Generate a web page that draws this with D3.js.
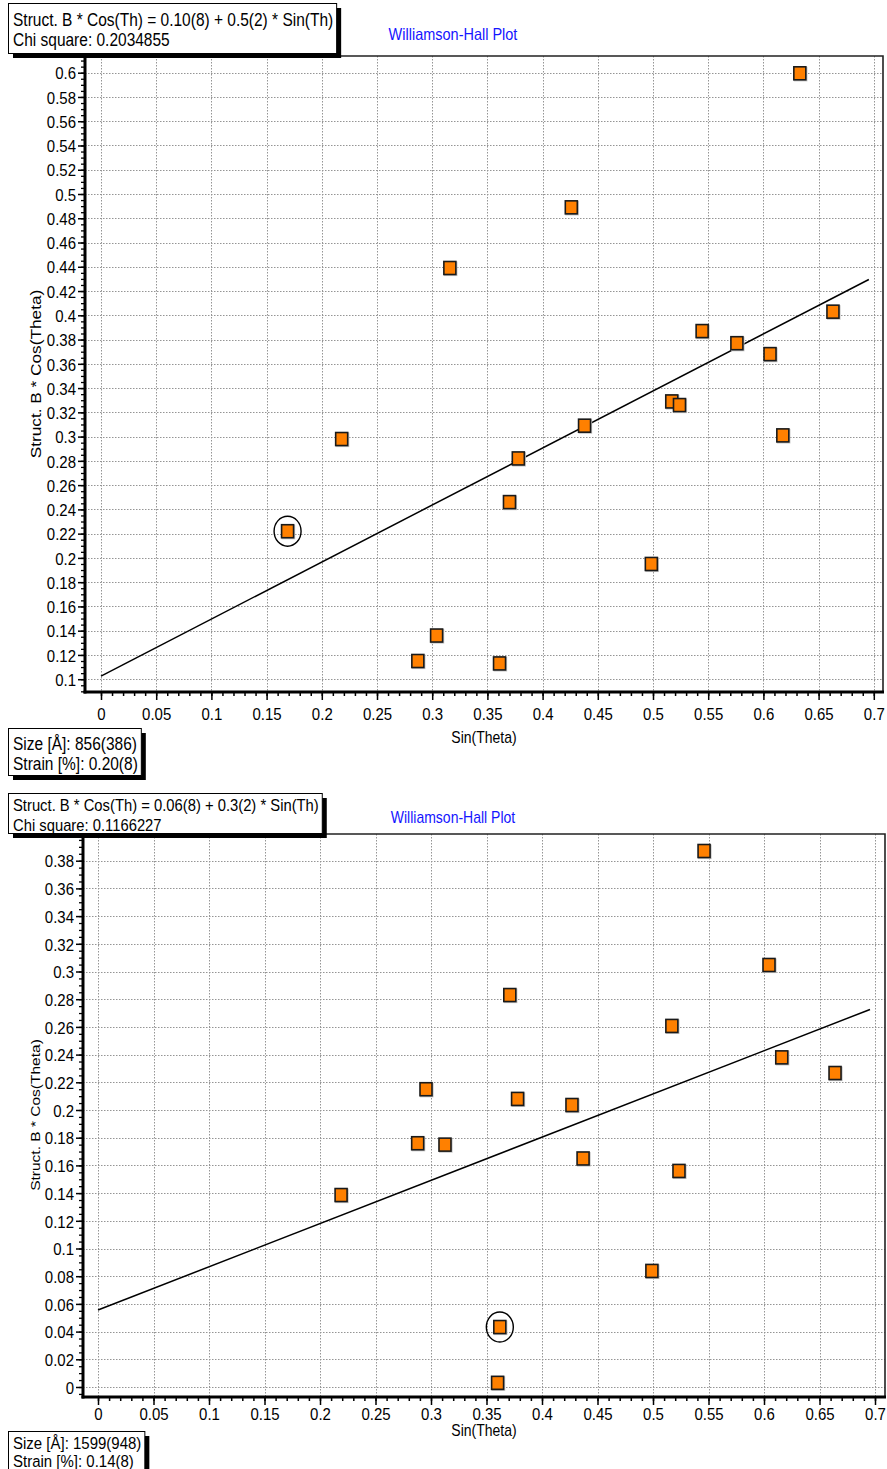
<!DOCTYPE html>
<html><head><meta charset="utf-8">
<script src="https://cdn.jsdelivr.net/npm/d3@7"></script>
<style>
body{margin:0;background:#fff;overflow:hidden}
svg{display:block;font-family:Arial,"Liberation Sans",sans-serif}
</style></head><body>
<svg id="c" width="887" height="1469"></svg>
<script>
// ---------- Panel 1 data ----------
const sinTheta1 = [0.633,0.426,0.316,0.663,0.5445,0.576,0.606,0.517,0.524,0.438,0.6176,0.378,0.370,0.169,0.304,0.287,0.361,0.218,0.4985];
const bcos1     = [0.5995,0.489,0.439,0.403,0.387,0.377,0.368,0.329,0.326,0.309,0.301,0.282,0.246,0.222,0.136,0.115,0.113,0.298,0.195];
const circled1  = [13];
const fitCoef1  = [0.1026, 0.470];     // intercept, slope
const fitRange1 = [0, 0.6955];
const yTicks1   = [0.1,0.12,0.14,0.16,0.18,0.2,0.22,0.24,0.26,0.28,0.3,0.32,0.34,0.36,0.38,0.4,0.42,0.44,0.46,0.48,0.5,0.52,0.54,0.56,0.58,0.6];
const yTickLabels1 = ["0.1","0.12","0.14","0.16","0.18","0.2","0.22","0.24","0.26","0.28","0.3","0.32","0.34","0.36","0.38","0.4","0.42","0.44","0.46","0.48","0.5","0.52","0.54","0.56","0.58","0.6"];
const infoTop1  = ["Struct. B * Cos(Th) = 0.10(8) + 0.5(2) * Sin(Th)", "Chi square: 0.2034855"];
const infoBot1  = ["Size [Å]: 856(386)", "Strain [%]: 0.20(8)"];

// ---------- Panel 2 data ----------
const sinTheta2 = [0.546,0.6045,0.371,0.517,0.616,0.664,0.2955,0.378,0.427,0.288,0.3126,0.437,0.5234,0.219,0.499,0.362,0.360];
const bcos2     = [0.387,0.3047,0.283,0.2607,0.238,0.2267,0.215,0.208,0.2036,0.176,0.175,0.165,0.156,0.1386,0.0838,0.0433,0.003];
const circled2  = [15];
const fitCoef2  = [0.0556, 0.312];
const fitRange2 = [0, 0.6955];
const yTicks2   = [0,0.02,0.04,0.06,0.08,0.1,0.12,0.14,0.16,0.18,0.2,0.22,0.24,0.26,0.28,0.3,0.32,0.34,0.36,0.38];
const yTickLabels2 = ["0","0.02","0.04","0.06","0.08","0.1","0.12","0.14","0.16","0.18","0.2","0.22","0.24","0.26","0.28","0.3","0.32","0.34","0.36","0.38"];
const infoTop2  = ["Struct. B * Cos(Th) = 0.06(8) + 0.3(2) * Sin(Th)", "Chi square: 0.1166227"];
const infoBot2  = ["Size [Å]: 1599(948)", "Strain [%]: 0.14(8)"];

// ---------- shared ----------
const xTicks = [0,0.05,0.1,0.15,0.2,0.25,0.3,0.35,0.4,0.45,0.5,0.55,0.6,0.65,0.7];
const xTickLabels = ["0","0.05","0.1","0.15","0.2","0.25","0.3","0.35","0.4","0.45","0.5","0.55","0.6","0.65","0.7"];
const chartTitle = "Williamson-Hall Plot";
const xTitle = "Sin(Theta)";
const yTitle = "Struct. B * Cos(Theta)";

const SY = 1.15; // vertical stretch of the text glyphs in the picture
const svg = d3.select("#c");

const panels = [
  {xs: sinTheta1, ys: bcos1, circ: circled1, fit: fitCoef1, fitR: fitRange1, yT: yTicks1, yL: yTickLabels1,
   infoT: infoTop1, infoB: infoBot1,
   left: 85, right: 883, top: 56, bottom: 692,
   x0px: 101, xUnit: 1104, y0val: 0.6, y0px: 72.7, yUnit: 1213,
   titleY: 40, titleX: 453, titleFs: 14.5,
   infoTBox: [8, 3, 53], infoTBase: [26, 46], infoTFs: 15.5,
   infoBBox: [8, 728, 775], infoBBase: [750, 770], infoBFs: 15.5,
   xLabY: 720, xTitleY: 743, yTitleX: 41, yTitleY: 374, yTitleFs: 15},
  {xs: sinTheta2, ys: bcos2, circ: circled2, fit: fitCoef2, fitR: fitRange2, yT: yTicks2, yL: yTickLabels2,
   infoT: infoTop2, infoB: infoBot2,
   left: 83, right: 885, top: 834, bottom: 1397,
   x0px: 98, xUnit: 1110, y0val: 0, y0px: 1387, yUnit: 1385,
   titleY: 823, titleX: 453, titleFs: 14,
   infoTBox: [8, 793, 833], infoTBase: [811, 831], infoTFs: 14.8,
   infoBBox: [8, 1431, 1476], infoBBase: [1449, 1467], infoBFs: 15,
   xLabY: 1420, xTitleY: 1436, yTitleX: 40, yTitleY: 1115, yTitleFs: 13.5}
];

function stretchText(sel, x, y, extra) {
  sel.attr("x", 0).attr("y", 0)
     .attr("transform", `translate(${x},${y}) scale(1,${SY})` + (extra || ""));
}

panels.forEach(p => {
  const g = svg.append("g");
  const xDom = [(p.left - p.x0px) / p.xUnit, (p.right - p.x0px) / p.xUnit];
  const yDom = [p.y0val - (p.bottom - p.y0px) / p.yUnit, p.y0val + (p.y0px - p.top) / p.yUnit];
  const x = d3.scaleLinear().domain(xDom).range([p.left, p.right]);
  const y = d3.scaleLinear().domain(yDom).range([p.bottom, p.top]);

  // grid
  const grid = g.append("g").attr("stroke", "#959595").attr("stroke-width", 1).attr("stroke-dasharray", "1.5,1.5");
  grid.selectAll(".gx").data(xTicks).join("line")
    .attr("x1", d => Math.round(x(d)) + 0.5).attr("x2", d => Math.round(x(d)) + 0.5)
    .attr("y1", p.top).attr("y2", p.bottom);
  grid.selectAll(".gy").data(p.yT).join("line")
    .attr("y1", d => Math.round(y(d)) + 0.5).attr("y2", d => Math.round(y(d)) + 0.5)
    .attr("x1", p.left).attr("x2", p.right);

  // frame (top and right)
  g.append("path").attr("d", `M${p.left},${p.top}H${p.right}V${p.bottom}`)
    .attr("fill", "none").attr("stroke", "#222").attr("stroke-width", 1.6);

  // fit line
  g.append("line")
    .attr("x1", x(p.fitR[0])).attr("y1", y(p.fit[0] + p.fit[1] * p.fitR[0]))
    .attr("x2", x(p.fitR[1])).attr("y2", y(p.fit[0] + p.fit[1] * p.fitR[1]))
    .attr("stroke", "#000").attr("stroke-width", 1.5);

  // points
  const pts = p.xs.map((v, i) => ({x: v, y: p.ys[i], i}));
  const sw = 12, sh = 13;
  g.selectAll(".sh").data(pts).join("rect")
    .attr("x", d => x(d.x) - sw / 2 + 0.8).attr("y", d => y(d.y) - sh / 2 + 0.8)
    .attr("width", sw).attr("height", sh).attr("fill", "none").attr("stroke", "#c4c4c4").attr("stroke-width", 1.6);
  g.selectAll(".pt").data(pts).join("rect")
    .attr("x", d => x(d.x) - sw / 2).attr("y", d => y(d.y) - sh / 2)
    .attr("width", sw).attr("height", sh)
    .attr("fill", "#ff8000").attr("stroke", "#1a1a1a").attr("stroke-width", 1.6);

  // circled point
  g.selectAll(".ci").data(p.circ.map(i => pts[i])).join("ellipse")
    .attr("cx", d => x(d.x)).attr("cy", d => y(d.y)).attr("rx", 13.5).attr("ry", 15)
    .attr("fill", "none").attr("stroke", "#000").attr("stroke-width", 1.4);

  // axes
  const xMinor = d3.range(0, 0.7001, 0.01).filter(v => v >= xDom[0] && v <= xDom[1]);
  const yMinor = d3.range(Math.ceil(yDom[0] / 0.005) * 0.005, yDom[1], 0.005);
  const axB = g.append("g").attr("transform", `translate(0,${p.bottom})`)
    .call(d3.axisBottom(x).tickValues(xMinor).tickSize(4).tickFormat(""));
  axB.select(".domain").remove();
  axB.selectAll("line").attr("stroke", "#000").attr("stroke-width", 1.5);
  const axBM = g.append("g").attr("transform", `translate(0,${p.bottom})`)
    .call(d3.axisBottom(x).tickValues(xTicks).tickSize(8).tickFormat((d, i) => xTickLabels[i]));
  axBM.select(".domain").remove();
  axBM.selectAll("line").attr("stroke", "#000").attr("stroke-width", 1.5);
  axBM.selectAll("text").attr("dy", null)
    .attr("font-size", 15).attr("font-family", "Arial, 'Liberation Sans', sans-serif").attr("fill", "#000")
    .each(function() { stretchText(d3.select(this), 0, p.xLabY - p.bottom); });

  const axL = g.append("g").attr("transform", `translate(${p.left},0)`)
    .call(d3.axisLeft(y).tickValues(yMinor).tickSize(4).tickFormat(""));
  axL.select(".domain").remove();
  axL.selectAll("line").attr("stroke", "#000").attr("stroke-width", 1.3);
  const axLM = g.append("g").attr("transform", `translate(${p.left},0)`)
    .call(d3.axisLeft(y).tickValues(p.yT).tickSize(7).tickFormat((d, i) => p.yL[i]));
  axLM.select(".domain").remove();
  axLM.selectAll("line").attr("stroke", "#000").attr("stroke-width", 1.5);
  axLM.selectAll("text").attr("dy", "0.36em")
    .attr("font-size", 15).attr("font-family", "Arial, 'Liberation Sans', sans-serif").attr("fill", "#000")
    .each(function() { stretchText(d3.select(this), -9, 0); });

  // thick axis lines
  g.append("line").attr("x1", p.left).attr("x2", p.left).attr("y1", p.top).attr("y2", p.bottom + 1.5)
    .attr("stroke", "#000").attr("stroke-width", 3);
  g.append("line").attr("x1", p.left - 1.5).attr("x2", p.right + 1).attr("y1", p.bottom).attr("y2", p.bottom)
    .attr("stroke", "#000").attr("stroke-width", 3);

  // titles
  stretchText(g.append("text").attr("text-anchor", "middle")
    .attr("font-size", p.titleFs).attr("fill", "#1515ff").text(chartTitle), p.titleX, p.titleY);
  stretchText(g.append("text").attr("text-anchor", "middle")
    .attr("font-size", 14).attr("fill", "#000").text(xTitle), (p.left + p.right) / 2, p.xTitleY);
  stretchText(g.append("text").attr("text-anchor", "middle")
    .attr("font-size", p.yTitleFs).attr("fill", "#000").text(yTitle), p.yTitleX, p.yTitleY, " rotate(-90)");

  // info boxes
  function infoBox(lines, box, bases, fs) {
    const bg = g.append("g");
    const tg = g.append("g");
    const texts = tg.selectAll("text").data(lines).join("text")
      .attr("font-size", fs).attr("fill", "#000").text(d => d)
      .each(function(d, i) { stretchText(d3.select(this), box[0] + 5, bases[i]); });
    let w = 0;
    texts.each(function() { w = Math.max(w, this.getComputedTextLength()); });
    const bw = w + 8, bh = box[2] - box[1];
    bg.append("rect").attr("x", box[0] + 5).attr("y", box[1] + 5).attr("width", bw).attr("height", bh).attr("fill", "#000");
    bg.append("rect").attr("x", box[0] + 0.5).attr("y", box[1] + 0.5).attr("width", bw).attr("height", bh)
      .attr("fill", "#fff").attr("stroke", "#000").attr("stroke-width", 1);
  }
  infoBox(p.infoT, p.infoTBox, p.infoTBase, p.infoTFs);
  infoBox(p.infoB, p.infoBBox, p.infoBBase, p.infoBFs);
});
</script>
</body></html>
